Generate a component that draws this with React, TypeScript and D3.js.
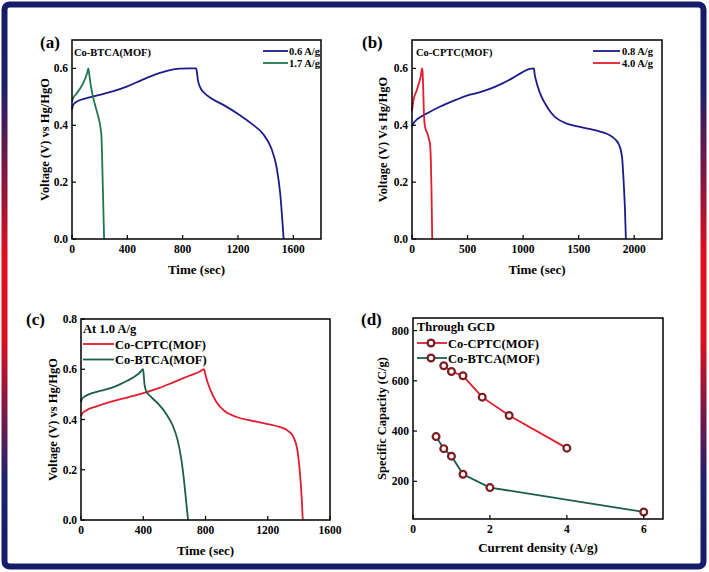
import React from "react";
import * as d3 from "d3";

// ---------- Data ----------
// (a) Co-BTCA(MOF)
const aBlueT = [0, 5, 20, 50, 100, 200, 300, 400, 500, 600, 700, 780, 850, 898, 902, 910, 925, 950, 1000, 1100, 1200, 1300, 1380, 1440, 1480, 1505, 1520, 1530];
const aBlueV = [0.455, 0.468, 0.478, 0.487, 0.495, 0.507, 0.52, 0.537, 0.558, 0.578, 0.593, 0.599, 0.6, 0.6, 0.59, 0.56, 0.535, 0.517, 0.497, 0.47, 0.44, 0.405, 0.37, 0.32, 0.25, 0.16, 0.07, 0];
const aGreenT = [0, 10, 30, 60, 90, 110, 118, 122, 130, 145, 165, 190, 205, 213, 218, 223, 228, 232];
const aGreenV = [0.485, 0.497, 0.51, 0.53, 0.558, 0.585, 0.6, 0.59, 0.56, 0.515, 0.475, 0.43, 0.395, 0.36, 0.28, 0.18, 0.08, 0];
// (b) Co-CPTC(MOF)
const bBlueT = [0, 10, 30, 80, 150, 250, 400, 500, 600, 700, 800, 900, 1000, 1060, 1098, 1102, 1115, 1150, 1200, 1250, 1300, 1400, 1500, 1600, 1700, 1780, 1830, 1865, 1890, 1905, 1917, 1925];
const bBlueV = [0.395, 0.405, 0.415, 0.43, 0.445, 0.465, 0.49, 0.505, 0.515, 0.528, 0.545, 0.565, 0.588, 0.598, 0.6, 0.585, 0.56, 0.515, 0.475, 0.445, 0.425, 0.405, 0.395, 0.387, 0.377, 0.365, 0.35, 0.33, 0.29, 0.2, 0.1, 0];
const bRedT = [0, 8, 20, 40, 60, 80, 90, 95, 100, 106, 112, 120, 135, 150, 163, 170, 175, 179, 182];
const bRedV = [0.45, 0.475, 0.5, 0.52, 0.545, 0.575, 0.6, 0.59, 0.54, 0.46, 0.41, 0.39, 0.375, 0.355, 0.33, 0.27, 0.18, 0.08, 0];
// (c) At 1.0 A/g
const cRedT = [0, 10, 30, 100, 200, 300, 400, 500, 600, 700, 760, 790, 795, 805, 830, 870, 920, 1000, 1100, 1200, 1280, 1330, 1365, 1390, 1405, 1418, 1425];
const cRedV = [0.415, 0.425, 0.435, 0.452, 0.472, 0.488, 0.505, 0.525, 0.55, 0.575, 0.59, 0.6, 0.59, 0.565, 0.52, 0.47, 0.435, 0.41, 0.395, 0.382, 0.37, 0.355, 0.33, 0.28, 0.2, 0.09, 0];
const cGreenT = [0, 5, 20, 50, 100, 150, 200, 250, 300, 350, 380, 398, 402, 408, 420, 450, 500, 550, 590, 620, 645, 665, 678, 688];
const cGreenV = [0.47, 0.48, 0.49, 0.5, 0.51, 0.518, 0.527, 0.54, 0.555, 0.573, 0.588, 0.6, 0.585, 0.54, 0.512, 0.49, 0.46, 0.42, 0.375, 0.32, 0.24, 0.14, 0.06, 0];
// (d) Specific capacity
const dCptcX = [0.8, 1.0, 1.3, 1.8, 2.5, 4.0];
const dCptcY = [660, 637, 620, 535, 462, 332];
const dBtcaX = [0.6, 0.8, 1.0, 1.3, 2.0, 6.0];
const dBtcaY = [378, 330, 300, 228, 175, 78];

const ticksA = [0, 400, 800, 1200, 1600];
const ticksB = [0, 500, 1000, 1500, 2000];
const ticksC = [0, 400, 800, 1200, 1600];
const ticksVab = [0, 0.2, 0.4, 0.6];
const ticksVc = [0, 0.2, 0.4, 0.6, 0.8];
const ticksDx = [0, 2, 4, 6];
const ticksDy = [200, 400, 600, 800];

const FONT = "'Liberation Serif', 'Times New Roman', serif";
const BLUE = "#1c1c8c";
const GREEN_A = "#22774e";
const GREEN_C = "#1b5e4b";
const RED = "#e11d2e";
const MARK = "#7a1c26";

const zip = (xs: number[], ys: number[]) => xs.map((x, i) => [x, ys[i]] as [number, number]);

type Series = { pts: [number, number][]; color: string; marker?: boolean };

function Panel(props: {
  box: [number, number, number, number];
  xd: [number, number];
  yd: [number, number];
  xt: number[];
  yt: number[];
  yfmt: (v: number) => string;
  series: Series[];
  xlabel: string;
  ylabel: string;
  ylabelX: number;
  xlabelY: number;
  children?: any;
}) {
  const [l, t, r, b] = props.box;
  const x = d3.scaleLinear().domain(props.xd).range([l, r]);
  const y = d3.scaleLinear().domain(props.yd).range([b, t]);
  const line = d3
    .line<[number, number]>()
    .x((d) => x(d[0]))
    .y((d) => y(d[1]))
    .curve(d3.curveMonotoneX);
  const straight = d3
    .line<[number, number]>()
    .x((d) => x(d[0]))
    .y((d) => y(d[1]));
  return (
    <g fontFamily={FONT} fontWeight="bold">
      {props.series.map((s, i) => (
        <g key={i}>
          <path d={(s.marker ? straight(s.pts) : line(s.pts)) || ""} fill="none" stroke={s.color} strokeWidth={1.8} />
          {s.marker &&
            s.pts.map((p, j) => (
              <circle key={j} cx={x(p[0])} cy={y(p[1])} r={3.4} fill="#fff9ef" stroke={MARK} strokeWidth={2.2} />
            ))}
        </g>
      ))}
      <rect x={l} y={t} width={r - l} height={b - t} fill="none" stroke="#000" strokeWidth={1.5} />
      {props.xt.map((v) => (
        <g key={"x" + v}>
          <line x1={x(v)} x2={x(v)} y1={b} y2={b - 4} stroke="#000" strokeWidth={1.2} />
          <text x={x(v)} y={b + 14} fontSize={11.5} textAnchor="middle">
            {v}
          </text>
        </g>
      ))}
      {props.yt.map((v) => (
        <g key={"y" + v}>
          <line x1={l} x2={l + 4} y1={y(v)} y2={y(v)} stroke="#000" strokeWidth={1.2} />
          <text x={l - 4} y={y(v) + 4} fontSize={11.5} textAnchor="end">
            {props.yfmt(v)}
          </text>
        </g>
      ))}
      <text x={(l + r) / 2} y={props.xlabelY} fontSize={13} textAnchor="middle">
        {props.xlabel}
      </text>
      <text
        transform={`translate(${props.ylabelX},${(t + b) / 2}) rotate(-90)`}
        fontSize={12.5}
        textAnchor="middle"
      >
        {props.ylabel}
      </text>
      {props.children}
    </g>
  );
}

export default function App() {
  const f1 = (v: number) => v.toFixed(1);
  const f0 = (v: number) => String(v);
  return (
    <svg
      width={709}
      height={572}
      style={{ position: "absolute", left: 0, top: 0, background: "#fff" }}
    >
      <defs>
        <linearGradient id="frame" x1="0" y1="0" x2="0" y2="1">
          <stop offset="0" stopColor="#151c6a" />
          <stop offset="0.15" stopColor="#1f1f6a" />
          <stop offset="0.45" stopColor="#e0101c" />
          <stop offset="0.6" stopColor="#d8121e" />
          <stop offset="0.85" stopColor="#1c2070" />
          <stop offset="1" stopColor="#151c6a" />
        </linearGradient>
      </defs>
      <rect x={0} y={0} width={709} height={572} fill="#fff" />
      <rect x={4.5} y={4.5} width={699} height={562} rx={5} fill="none" stroke="url(#frame)" strokeWidth={6} />

      {/* (a) */}
      <Panel
        box={[72, 40, 321, 239]}
        xd={[0, 1800]}
        yd={[0, 0.7]}
        xt={ticksA}
        yt={ticksVab}
        yfmt={f1}
        series={[
          { pts: zip(aBlueT, aBlueV), color: BLUE },
          { pts: zip(aGreenT, aGreenV), color: GREEN_A },
        ]}
        xlabel="Time (sec)"
        ylabel="Voltage (V) vs Hg/HgO"
        ylabelX={49}
        xlabelY={274}
      >
        <text x={74} y={56} fontSize={10.5}>Co-BTCA(MOF)</text>
        <line x1={263} x2={288} y1={51} y2={51} stroke={BLUE} strokeWidth={1.8} />
        <line x1={263} x2={288} y1={63} y2={63} stroke={GREEN_A} strokeWidth={1.8} />
        <text x={289} y={54.5} fontSize={10.5}>0.6 A/g</text>
        <text x={289} y={66.5} fontSize={10.5}>1.7 A/g</text>
      </Panel>
      <text x={40} y={48} fontSize={17} fontFamily={FONT} fontWeight="bold">(a)</text>

      {/* (b) */}
      <Panel
        box={[412, 40, 662, 239]}
        xd={[0, 2250]}
        yd={[0, 0.7]}
        xt={ticksB}
        yt={ticksVab}
        yfmt={f1}
        series={[
          { pts: zip(bBlueT, bBlueV), color: BLUE },
          { pts: zip(bRedT, bRedV), color: RED },
        ]}
        xlabel="Time (sec)"
        ylabel="Voltage (V) Vs Hg/HgO"
        ylabelX={387}
        xlabelY={274}
      >
        <text x={416} y={56} fontSize={10.5}>Co-CPTC(MOF)</text>
        <line x1={593} x2={620} y1={51} y2={51} stroke={BLUE} strokeWidth={1.8} />
        <line x1={593} x2={620} y1={63} y2={63} stroke={RED} strokeWidth={1.8} />
        <text x={622} y={54.5} fontSize={10.5}>0.8 A/g</text>
        <text x={622} y={66.5} fontSize={10.5}>4.0 A/g</text>
      </Panel>
      <text x={362} y={48} fontSize={17} fontFamily={FONT} fontWeight="bold">(b)</text>

      {/* (c) */}
      <Panel
        box={[81, 319, 330, 520]}
        xd={[0, 1600]}
        yd={[0, 0.8]}
        xt={ticksC}
        yt={ticksVc}
        yfmt={f1}
        series={[
          { pts: zip(cRedT, cRedV), color: RED },
          { pts: zip(cGreenT, cGreenV), color: GREEN_C },
        ]}
        xlabel="Time (sec)"
        ylabel="Voltage (V) vs Hg/HgO"
        ylabelX={57}
        xlabelY={555}
      >
        <text x={83} y={333} fontSize={12.5}>At 1.0 A/g</text>
        <line x1={83} x2={114} y1={344} y2={344} stroke={RED} strokeWidth={1.8} />
        <line x1={83} x2={114} y1={359.5} y2={359.5} stroke={GREEN_C} strokeWidth={1.8} />
        <text x={115} y={348.5} fontSize={12.5}>Co-CPTC(MOF)</text>
        <text x={115} y={364} fontSize={12.5}>Co-BTCA(MOF)</text>
      </Panel>
      <text x={26} y={325} fontSize={17} fontFamily={FONT} fontWeight="bold">(c)</text>

      {/* (d) */}
      <Panel
        box={[413, 318, 663, 519]}
        xd={[0, 6.5]}
        yd={[50, 850]}
        xt={ticksDx}
        yt={ticksDy}
        yfmt={f0}
        series={[
          { pts: zip(dCptcX, dCptcY), color: RED, marker: true },
          { pts: zip(dBtcaX, dBtcaY), color: GREEN_C, marker: true },
        ]}
        xlabel="Current density (A/g)"
        ylabel="Specific Capacity (C/g)"
        ylabelX={386}
        xlabelY={552}
      >
        <text x={417} y={331} fontSize={12.5}>Through GCD</text>
        <line x1={417} x2={447} y1={343} y2={343} stroke={RED} strokeWidth={1.8} />
        <circle cx={431} cy={343} r={3.4} fill="#fff9ef" stroke={MARK} strokeWidth={2.2} />
        <line x1={417} x2={447} y1={358} y2={358} stroke={GREEN_C} strokeWidth={1.8} />
        <circle cx={431} cy={358} r={3.4} fill="#fff9ef" stroke={MARK} strokeWidth={2.2} />
        <text x={448} y={347.5} fontSize={12.5}>Co-CPTC(MOF)</text>
        <text x={448} y={362.5} fontSize={12.5}>Co-BTCA(MOF)</text>
      </Panel>
      <text x={361} y={325} fontSize={17} fontFamily={FONT} fontWeight="bold">(d)</text>
    </svg>
  );
}
